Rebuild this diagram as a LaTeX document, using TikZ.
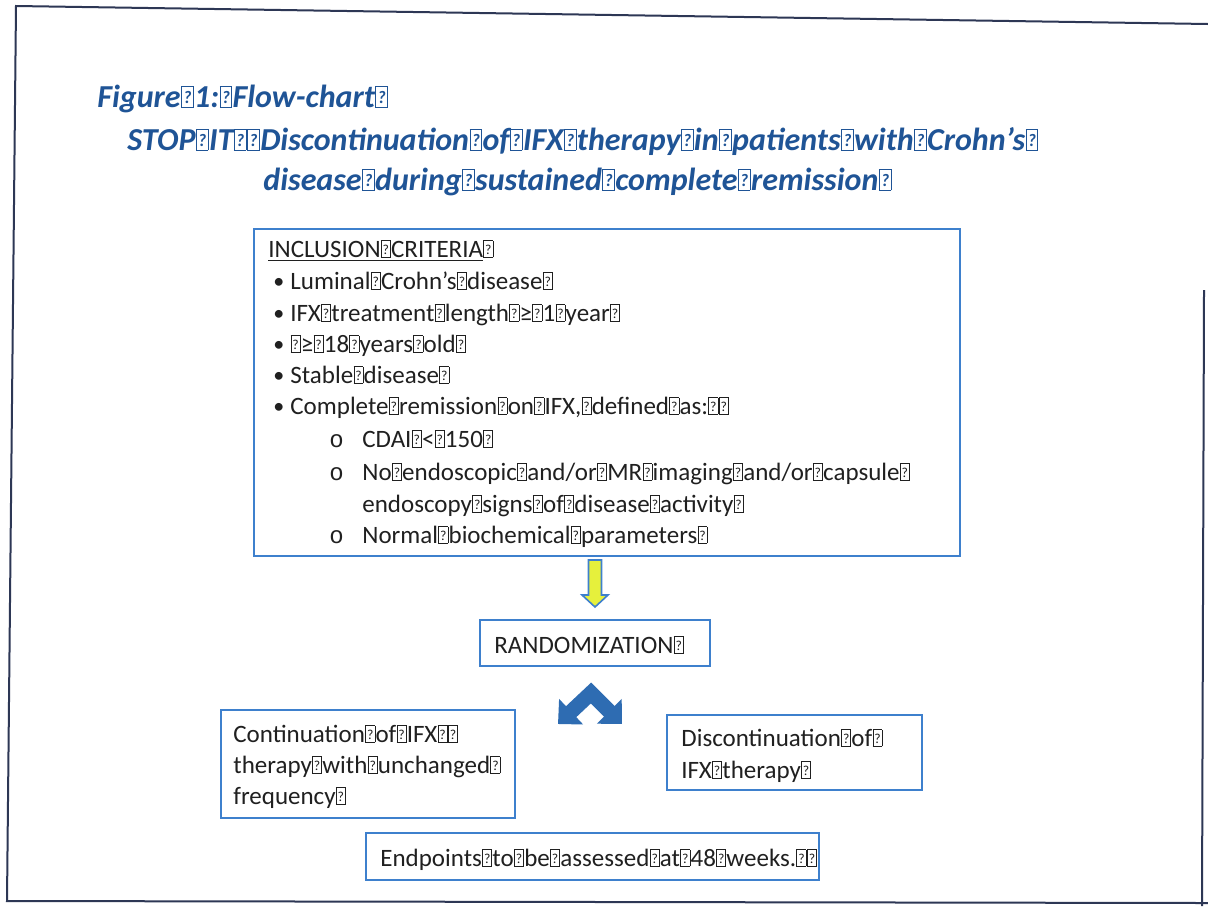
\documentclass[tikz,border=0pt]{standalone}
\usepackage{fontspec}
\usepackage{graphicx}
\setmainfont{Carlito}
\newfontfamily\bulletmono{Liberation Mono}
\usetikzlibrary{arrows.meta,calc}

\definecolor{titleblue}{RGB}{31,84,150}
\definecolor{boxblue}{RGB}{62,128,205}
\definecolor{ink}{RGB}{32,32,32}
\definecolor{framegrey}{RGB}{45,55,85}
\definecolor{arrowyellow}{RGB}{230,240,60}
\definecolor{arrowblue}{RGB}{46,108,178}

% placeholder glyph box standing in for each space
\newcommand{\qb}{\makebox[0.42em][c]{\setlength{\fboxsep}{0pt}\setlength{\fboxrule}{0.35pt}\fbox{\makebox[0.34em][c]{\rule{0pt}{0.64em}\raisebox{0.1em}{\scalebox{0.55}{?}}}}}}

\tikzset{
  framebox/.style={draw=boxblue, line width=1pt, inner sep=0pt, outer sep=0pt, fill=white},
  bodytext/.style={anchor=base west, inner sep=0pt, text=ink, font=\fontsize{12.5}{15}\selectfont},
  titletext/.style={anchor=base west, inner sep=0pt, text=titleblue, font=\fontsize{16}{19}\selectfont\bfseries\itshape},
  bulletmark/.style={anchor=base west, inner sep=0pt, text=ink, font=\fontsize{11}{15}\selectfont},
  submark/.style={anchor=base west, inner sep=0pt, text=ink, font=\fontsize{12}{15}\bulletmono},
}

\begin{document}
\begin{tikzpicture}[x=0.5pt, y=-0.5pt]
\useasboundingbox (0,0) rectangle (1208,906);
\fill[white] (0,0) rectangle (1208,906);

% page frame
\draw[framegrey, line width=1pt] (1208,24) -- (16,6) -- (7,901) -- (1208,903);
\draw[framegrey, line width=1pt] (1204,290) -- (1202,906);

% title
\node[titletext] (t1) at (97,107) {Figure\qb 1:\qb Flow-chart\qb};
\node[titletext] (t2) at (127,150) {STOP\qb IT\qb\qb Discontinuation\qb of\qb IFX\qb therapy\qb in\qb patients\qb with\qb Crohn’s\qb};
\node[titletext] (t3) at (263,190) {disease\qb during\qb sustained\qb complete\qb remission\qb};

% boxes
\node[framebox, minimum width=353pt, minimum height=163.5pt] (incl) at (607,392.5) {};
\node[framebox, minimum width=115pt, minimum height=23pt] (rand) at (595,643) {};
\node[framebox, minimum width=147pt, minimum height=54pt] (cont) at (368,764) {};
\node[framebox, minimum width=127.5pt, minimum height=37.5pt] (disc) at (794.5,752.5) {};
\node[framebox, minimum width=226.5pt, minimum height=23.5pt] (endp) at (592.5,856.5) {};

% inclusion criteria
\node[bodytext] (ih) at (268,257) {\underline{INCLUSION\qb CRITERIA}\qb};
\node[bulletmark] (m1) at (273,288) {•};
\node[bodytext] (i1) at (290,289) {Luminal\qb Crohn’s\qb disease\qb};
\node[bulletmark] (m2) at (273,320) {•};
\node[bodytext] (i2) at (290,321) {IFX\qb treatment\qb length\qb≥\qb 1\qb year\qb};
\node[bulletmark] (m3) at (273,351) {•};
\node[bodytext] (i3) at (290,352) {\qb≥\qb 18\qb years\qb old\qb};
\node[bulletmark] (m4) at (273,382) {•};
\node[bodytext] (i4) at (290,383) {Stable\qb disease\qb};
\node[bulletmark] (m5) at (273,413) {•};
\node[bodytext] (i5) at (290,414) {Complete\qb remission\qb on\qb IFX,\qb defined\qb as:\qb\qb};
\node[submark] (s1) at (329,447) {o};
\node[bodytext] (j1) at (362,447) {CDAI\qb<\qb 150\qb};
\node[submark] (s2) at (329,480) {o};
\node[bodytext] (j2) at (362,480) {No\qb endoscopic\qb and/or\qb MR\qb imaging\qb and/or\qb capsule\qb};
\node[bodytext] (j2b) at (362,512) {endoscopy\qb signs\qb of\qb disease\qb activity\qb};
\node[submark] (s3) at (329,543) {o};
\node[bodytext] (j3) at (362,543) {Normal\qb biochemical\qb parameters\qb};

% other box texts
\node[bodytext] (rt) at (494,653) {RANDOMIZATION\qb};
\node[bodytext] (c1) at (233,742) {Continuation\qb of\qb IFX\qb\qb};
\node[bodytext] (c2) at (233,773) {therapy\qb with\qb unchanged\qb};
\node[bodytext] (c3) at (233,804) {frequency\qb};
\node[bodytext] (d1) at (681,746) {Discontinuation\qb of\qb};
\node[bodytext] (d2) at (681,778) {IFX\qb therapy\qb};
\node[bodytext] (e1) at (380,866) {Endpoints\qb to\qb be\qb assessed\qb at\qb 48\qb weeks.\qb\qb};

% block arrow down to randomization
\coordinate (ytop) at ($(rand.north |- incl.south)+(0,4)$);
\coordinate (ytip) at ($(rand.north)+(0,-13)$);
\filldraw[fill=arrowyellow, draw=boxblue, line width=0.8pt, line join=miter]
  ($(ytop)+(-6.5,0)$) -- ($(ytop)+(6.5,0)$) -- ($(ytip)+(6.5,-12)$) -- ($(ytip)+(13,-12)$)
  -- (ytip) -- ($(ytip)+(-13,-12)$) -- ($(ytip)+(-6.5,-12)$) -- cycle;

% split arrow towards the two arms
\coordinate (apex) at ($(rand.south)+(-4,27)$);
\coordinate (lefttip) at ($(rand.south)+(-37,58)$);
\coordinate (righttip) at ($(rand.south)+(27,58)$);
\draw[arrowblue, line width=7.5pt, line join=miter,
      {Triangle[width=17pt,length=9pt]}-{Triangle[width=17pt,length=9pt]}]
  (lefttip) -- (apex) -- (righttip);
\end{tikzpicture}
\end{document}
